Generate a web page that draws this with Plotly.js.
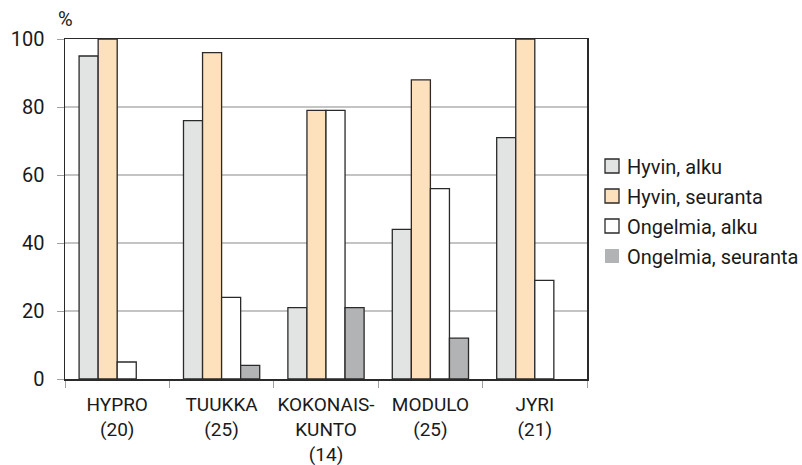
<!DOCTYPE html>
<html>
<head>
<meta charset="utf-8">
<script src="https://cdn.plot.ly/plotly-3.0.1.min.js"></script>
<style>
  html, body { margin: 0; padding: 0; background: #fff; }
  #chart { width: 802px; height: 465px; }
</style>
</head>
<body>
<div id="chart"></div>
<script>
// Programmes (with group sizes) on the category axis
const categories = ["HYPRO<br>(20)", "TUUKKA<br>(25)", "KOKONAIS-<br>KUNTO<br>(14)", "MODULO<br>(25)", "JYRI<br>(21)"];

// Share of respondents (%) per series
const hyvinAlku        = [95, 76, 21, 44, 71];
const hyvinSeuranta    = [100, 96, 79, 88, 100];
const ongelmiaAlku     = [5, 24, 79, 56, 29];
const ongelmiaSeuranta = [0, 4, 21, 12, 0];

const seriesNames  = ["Hyvin, alku", "Hyvin, seuranta", "Ongelmia, alku", "Ongelmia, seuranta"];
const seriesValues = [hyvinAlku, hyvinSeuranta, ongelmiaAlku, ongelmiaSeuranta];
const seriesColors = ["#e2e4e3", "#fde0bc", "#ffffff", "#b2b3b5"];

const yTicks = [0, 20, 40, 60, 80, 100];

const FONT = "Roboto, Noto Sans, sans-serif";

const traces = seriesValues.map((vals, i) => ({
  type: "bar",
  name: seriesNames[i],
  legendgroup: "g" + i,
  x: categories,
  y: vals,
  marker: {
    color: seriesColors[i],
    // no outline for empty bars
    line: { color: "#2a2a2a", width: vals.map(v => (v > 0 ? 1.3 : 0)) }
  },
  hoverinfo: "x+y+name"
}));

// plot spans 65..587 px; the legend sits to its right inside the paper
const PLOT_FRAC = 522 / 732;

const layout = {
  width: 802,
  height: 465,
  margin: { l: 65, r: 5, t: 39, b: 86 },
  paper_bgcolor: "#ffffff",
  plot_bgcolor: "#ffffff",
  font: { family: FONT, size: 20, color: "#1a1a1a" },
  barmode: "group",
  bargap: 0.27,
  bargroupgap: 0,
  showlegend: true,
  legend: {
    // laid out well inside the paper (no margin push), moved into place after drawing
    x: 0.4, xanchor: "left",
    y: 0.5, yanchor: "middle",
    font: { family: FONT, size: 20, color: "#1a1a1a" },
    itemwidth: 30,
    traceorder: "grouped",
    tracegroupgap: 1,
    bgcolor: "rgba(0,0,0,0)"
  },
  xaxis: {
    domain: [0, PLOT_FRAC],
    type: "category",
    tickangle: 0,
    tickson: "boundaries",
    ticks: "outside",
    ticklen: 7,
    tickcolor: "#a0a0a0",
    tickwidth: 1,
    showline: true,
    linecolor: "#2a2a2a",
    linewidth: 1.5,
    mirror: true,
    showgrid: false,
    ticklabelstandoff: 8,
    tickfont: { family: FONT, size: 19, color: "#1a1a1a" }
  },
  yaxis: {
    range: [0, 100],
    tickvals: yTicks,
    ticktext: yTicks.map(String),
    ticks: "outside",
    ticklen: 7,
    tickcolor: "#a0a0a0",
    showline: true,
    linecolor: "#2a2a2a",
    linewidth: 1.5,
    mirror: true,
    showgrid: true,
    gridcolor: "#c4c4c4",
    gridwidth: 1.3,
    zeroline: false,
    ticklabelstandoff: 8,
    tickfont: { family: FONT, size: 20, color: "#1a1a1a" }
  },
  annotations: [{
    text: "%",
    xref: "paper", yref: "paper",
    x: 0, y: 1,
    xanchor: "left", yanchor: "bottom",
    xshift: -9, yshift: 6,
    showarrow: false,
    font: { family: FONT, size: 20, color: "#1a1a1a" }
  }]
};

Plotly.newPlot("chart", traces, layout, { displayModeBar: false, staticPlot: true }).then(gd => {
  const root = gd.getBoundingClientRect();
  // slightly larger swatches
  const pts = gd.querySelectorAll(".legend .legendpoints path");
  pts.forEach(p => p.setAttribute("d", "M7,7H-7V-7H7Z"));
  // labels pulled closer to the swatches
  const texts = gd.querySelectorAll(".legend .legendtext");
  if (pts.length && texts.length) {
    const b = pts[0].getBoundingClientRect();
    const t = texts[0].getBoundingClientRect();
    const dxText = (t.left - b.right) - 8;
    texts.forEach(el => {
      const x = parseFloat(el.getAttribute("x")) || 40;
      el.setAttribute("x", x - dxText);
    });
    // place the legend block: first swatch at (605, 159)
    const lg = gd.querySelector(".legend");
    const m = /translate\(([-\d.]+)[ ,]+([-\d.]+)\)/.exec(lg.getAttribute("transform") || "");
    if (m) {
      const dx = 605 - (b.left - root.left);
      const dy = 159 - (b.top - root.top);
      lg.setAttribute("transform", `translate(${parseFloat(m[1]) + dx},${parseFloat(m[2]) + dy})`);
    }
  }
});
</script>
</body>
</html>
